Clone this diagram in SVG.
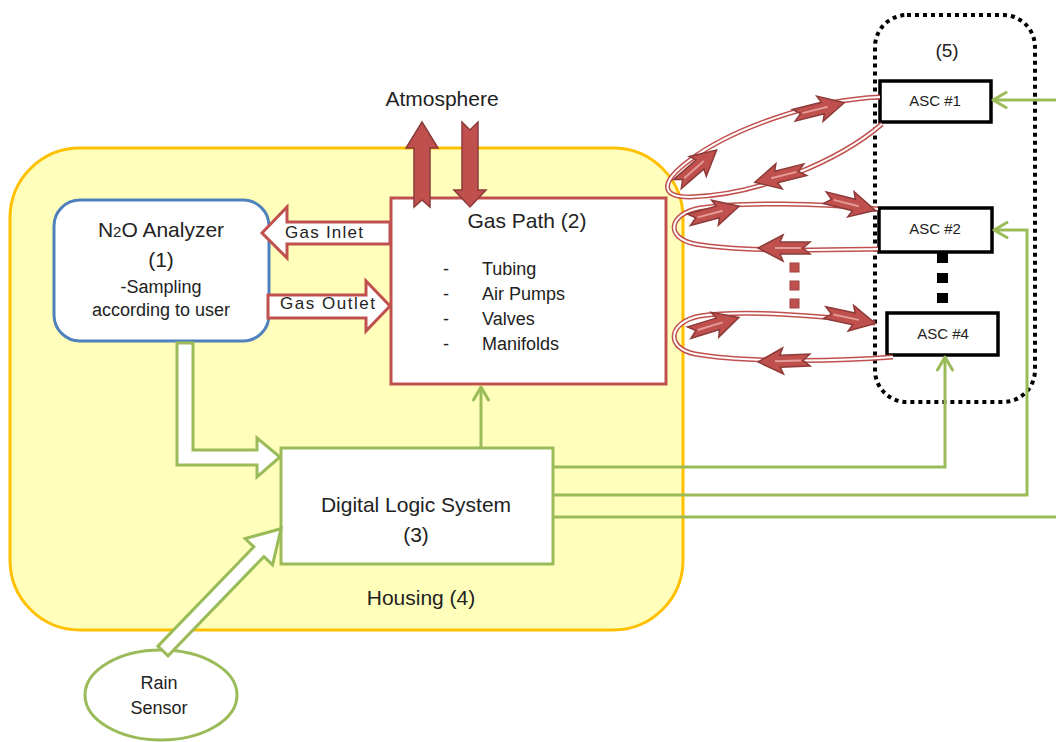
<svg xmlns="http://www.w3.org/2000/svg" xmlns:xlink="http://www.w3.org/1999/xlink" width="1056" height="742" viewBox="0 0 1056 742">
<style>
text{font-family:"Liberation Sans",Arial,sans-serif;fill:#222}
.big{font-size:21px}
.mid{font-size:18px}
.asc{font-size:15px}
.g{fill:none;stroke:#9BBB59;stroke-width:3}
.hollow{fill:#fff;stroke:#9BBB59;stroke-width:3;stroke-linejoin:miter}
.redhollow{fill:#fff;stroke:#C0504D;stroke-width:3}
.redsolid{fill:#C0504D;stroke:#8C3A38;stroke-width:1.5}
.loopo{fill:none;stroke:#C0504D;stroke-width:5}
.loopi{fill:none;stroke:#fff;stroke-width:2}
.ascbox{fill:#fff;stroke:#000;stroke-width:3.5}
</style>
<defs>
<marker id="gh" viewBox="0 0 18 18" refX="16" refY="9" markerWidth="18" markerHeight="18" markerUnits="userSpaceOnUse" orient="auto">
<path d="M3,1.5 L16,9 L3,16.5" fill="none" stroke="#9BBB59" stroke-width="3" stroke-linecap="round" stroke-linejoin="round"/>
</marker>
<g id="ra">
<path class="redsolid" d="M-26,-6 L4,-6 L1,-13 L26,0 L1,13 L4,6 L-26,6 L-19,0 Z"/>
<path d="M-17,0 L9,0" stroke="#E39B98" stroke-width="2" fill="none"/>
</g>
<path id="l1" d="M880,97 C810,100 730,130 690,160 C660,182 660,197 690,197 C760,195 840,160 882,124"/>
<path id="l2" d="M878,209 C820,203 740,202 700,208 C668,214 665,238 695,244 C740,252 820,250 878,249"/>
<path id="l3" d="M875,323 C820,315 740,310 700,316 C668,322 665,348 695,354 C740,362 830,362 893,357"/>
</defs>
<rect width="1056" height="742" fill="#fff"/>

<g id="housing">
<rect x="10" y="148" width="673" height="482" rx="70" ry="70" fill="#FFFFBB" stroke="#FFC000" stroke-width="3"/>
<text class="big" x="421" y="605" text-anchor="middle">Housing (4)</text>
</g>

<g id="asc-group">
<rect x="875" y="15" width="160" height="387" rx="32" ry="32" fill="none" stroke="#000" stroke-width="4" stroke-dasharray="4 4"/>
<text x="947" y="57" text-anchor="middle" style="font-size:19px">(5)</text>
</g>

<g id="analyzer">
<rect x="54" y="200" width="215" height="141" rx="26" ry="26" fill="#fff" stroke="#4F81BD" stroke-width="3"/>
<text class="big" x="161" y="237" text-anchor="middle">N<tspan style="font-size:15px">2</tspan>O Analyzer</text>
<text class="big" x="161" y="267" text-anchor="middle">(1)</text>
<text class="mid" x="161" y="293" text-anchor="middle">-Sampling</text>
<text class="mid" x="161" y="316" text-anchor="middle">according to user</text>
</g>

<g id="gaspath">
<rect x="391" y="198" width="275" height="186" fill="#fff" stroke="#C0504D" stroke-width="3"/>
<text class="big" x="527" y="228" text-anchor="middle">Gas Path (2)</text>
<text class="mid" x="443" y="275">-</text><text class="mid" x="482" y="275">Tubing</text>
<text class="mid" x="443" y="300">-</text><text class="mid" x="482" y="300">Air Pumps</text>
<text class="mid" x="443" y="325">-</text><text class="mid" x="482" y="325">Valves</text>
<text class="mid" x="443" y="350">-</text><text class="mid" x="482" y="350">Manifolds</text>
</g>

<g id="dls">
<rect x="281" y="448" width="272" height="116" fill="#fff" stroke="#9BBB59" stroke-width="3"/>
<text class="big" x="416" y="512" text-anchor="middle">Digital Logic System</text>
<text class="big" x="416" y="542" text-anchor="middle">(3)</text>
</g>

<g id="rain">
<ellipse cx="161" cy="695" rx="76" ry="45" fill="#fff" stroke="#9BBB59" stroke-width="3"/>
<text class="mid" x="159" y="689" text-anchor="middle">Rain</text>
<text class="mid" x="159" y="714" text-anchor="middle">Sensor</text>
</g>

<g id="atmosphere">
<text class="big" x="442" y="106" text-anchor="middle">Atmosphere</text>
</g>

<g id="asc1">
<rect class="ascbox" x="880" y="81" width="111" height="41"/>
<text class="asc" x="935" y="106" text-anchor="middle">ASC #1</text>
</g>
<g id="asc2">
<rect class="ascbox" x="879" y="208" width="113" height="44"/>
<text class="asc" x="935" y="234" text-anchor="middle">ASC #2</text>
</g>
<g id="asc4">
<rect class="ascbox" x="887" y="313" width="111" height="42"/>
<text class="asc" x="943" y="339" text-anchor="middle">ASC #4</text>
</g>
<g id="asc-ellipsis">
<rect x="937" y="253" width="11" height="10" fill="#000"/>
<rect x="937" y="273" width="11" height="10" fill="#000"/>
<rect x="937" y="293" width="11" height="10" fill="#000"/>
</g>

<g id="connectors">
<!-- red gas loops -->
<use xlink:href="#l1" class="loopo"/><use xlink:href="#l1" class="loopi"/>
<use xlink:href="#l2" class="loopo"/><use xlink:href="#l2" class="loopi"/>
<use xlink:href="#l3" class="loopo"/><use xlink:href="#l3" class="loopi"/>
<use xlink:href="#ra" transform="translate(697,167) rotate(-41)"/>
<use xlink:href="#ra" transform="translate(819,109) rotate(-14)"/>
<use xlink:href="#ra" transform="translate(780,176) rotate(166)"/>
<use xlink:href="#ra" transform="translate(714,213) rotate(-15)"/>
<use xlink:href="#ra" transform="translate(850,204) rotate(14)"/>
<use xlink:href="#ra" transform="translate(784,248) rotate(180)"/>
<use xlink:href="#ra" transform="translate(714,325) rotate(-17)"/>
<use xlink:href="#ra" transform="translate(850,318) rotate(12)"/>
<use xlink:href="#ra" transform="translate(784,361) rotate(178)"/>
<rect x="790" y="263" width="9" height="9" fill="#C0504D" stroke="#A0403E" stroke-width="1"/>
<rect x="790" y="281" width="9" height="9" fill="#C0504D" stroke="#A0403E" stroke-width="1"/>
<rect x="790" y="299" width="9" height="9" fill="#C0504D" stroke="#A0403E" stroke-width="1"/>

<!-- atmosphere arrows -->
<path class="redsolid" d="M422,122 L438,148 L430,148 L430,207 L422,200 L414,207 L414,148 L406,148 Z"/>
<path class="redsolid" d="M462,122 L470,130 L478,122 L478,190 L486,190 L470,207 L454,190 L462,190 Z"/>

<!-- gas inlet / outlet -->
<path class="redhollow" d="M262,233 L287,207 L287,222 L390,222 L390,244 L287,244 L287,258 Z"/>
<text class="mid" x="285" y="238" style="font-size:17px" textLength="78">Gas Inlet</text>
<path class="redhollow" d="M268,295 L366,295 L366,281 L390,306 L366,331 L366,318 L268,318 Z"/>
<text class="mid" x="280" y="309" style="font-size:17px" textLength="95">Gas Outlet</text>

<!-- green hollow arrows -->
<path class="hollow" d="M177,343 L193,343 L193,450 L257,450 L257,438 L280,457 L257,477 L257,465 L177,465 Z"/>
<path class="hollow" transform="translate(163,651) rotate(-46)" d="M0,-7 L138,-7 L138,-19 L170,0 L138,19 L138,7 L0,7 Z"/>

<!-- green control lines -->
<path class="g" d="M481,447 L481,387" marker-end="url(#gh)"/>
<path class="g" d="M553,467 L945,467 L945,357" marker-end="url(#gh)"/>
<path class="g" d="M553,495 L1027,495 L1027,230 L994,230" marker-end="url(#gh)"/>
<path class="g" d="M553,517 L1058,517"/>
<path class="g" d="M1058,100 L993,100" marker-end="url(#gh)"/>
</g>
</svg>
